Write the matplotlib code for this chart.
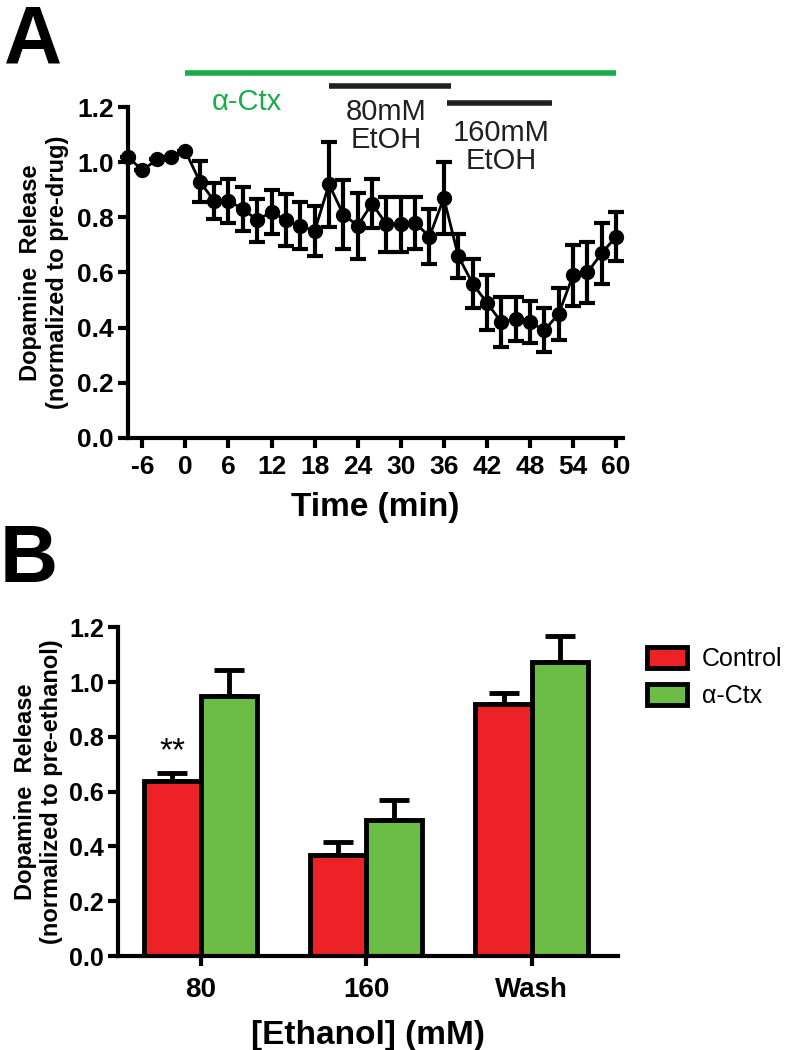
import numpy as np
import matplotlib
matplotlib.use("Agg")
import matplotlib.pyplot as plt
from matplotlib.patches import Patch

plt.rcParams['font.family'] = ['Liberation Sans', 'DejaVu Sans']
plt.rcParams['axes.unicode_minus'] = False

# Panel A: time course with alpha-Ctx, 80 and 160 mM EtOH
time_min = [-8, -6, -4, -2, 0, 2, 4, 6, 8, 10, 12, 14, 16, 18, 20, 22, 24, 26, 28,
            30, 32, 34, 36, 38, 40, 42, 44, 46, 48, 50, 52, 54, 56, 58, 60]
da_mean = [1.02, 0.97, 1.01, 1.02, 1.04, 0.93, 0.86, 0.86, 0.83, 0.79, 0.82, 0.79,
           0.77, 0.75, 0.92, 0.81, 0.77, 0.85, 0.775, 0.775, 0.78, 0.73, 0.87, 0.66,
           0.56, 0.49, 0.42, 0.43, 0.42, 0.39, 0.45, 0.59, 0.60, 0.67, 0.73]
da_sem = [0.0, 0.0, 0.0, 0.0, 0.0, 0.075, 0.065, 0.08, 0.08, 0.078, 0.08, 0.095,
          0.085, 0.09, 0.155, 0.125, 0.12, 0.09, 0.1, 0.1, 0.095, 0.1, 0.13, 0.08,
          0.09, 0.1, 0.09, 0.08, 0.075, 0.08, 0.095, 0.11, 0.11, 0.11, 0.09]
x_ticks_a = [-6, 0, 6, 12, 18, 24, 30, 36, 42, 48, 54, 60]
y_ticks = [0.0, 0.2, 0.4, 0.6, 0.8, 1.0, 1.2]
y_tick_labels = ['0.0', '0.2', '0.4', '0.6', '0.8', '1.0', '1.2']

# drug application periods (min)
ctx_period = [0, 60]
etoh80_period = [20, 37]
etoh160_period = [36.5, 51]

# Panel B: bar chart
groups = ['80', '160', 'Wash']
control_mean = [0.64, 0.37, 0.92]
control_err = [0.028, 0.048, 0.04]
ctx_mean = [0.95, 0.495, 1.075]
ctx_err = [0.095, 0.075, 0.093]

red = '#ec2227'
green = '#6cbd45'
line_green = '#1aac4a'
dark = '#231f20'

fig = plt.figure(figsize=(7.9, 10.5), dpi=100)

# ---------------- Panel A ----------------
axA = fig.add_axes([0.162, 0.583, 0.627, 0.315])
axA.errorbar(time_min, da_mean, yerr=da_sem, fmt='-o', color='black', lw=2,
             ms=10, elinewidth=3, capsize=6, capthick=3, clip_on=False, zorder=3)
axA.set_xlim(-8, 61)
axA.set_ylim(0, 1.2)
axA.set_xticks(x_ticks_a)
axA.set_yticks(y_ticks)
axA.set_yticklabels(y_tick_labels)
axA.spines['top'].set_visible(False)
axA.spines['right'].set_visible(False)
for s in ['left', 'bottom']:
    axA.spines[s].set_linewidth(3)
axA.tick_params(width=3, length=7, labelsize=19, direction='out', pad=3)
axA.tick_params(axis='x', pad=5)
for lab in axA.get_xticklabels() + axA.get_yticklabels():
    lab.set_fontweight('bold')
axA.set_xlabel('Time (min)', fontsize=24, fontweight='bold', labelpad=10)
axA.set_ylabel('Dopamine  Release\n(normalized to pre-drug)', fontsize=17,
               fontweight='bold', labelpad=6)

# treatment bars above the plot
axA.plot(ctx_period, [1.325, 1.325], color=line_green, lw=4, clip_on=False,
         solid_capstyle='butt')
axA.plot(etoh80_period, [1.277, 1.277], color=dark, lw=4, clip_on=False,
         solid_capstyle='butt')
axA.plot(etoh160_period, [1.214, 1.214], color=dark, lw=4, clip_on=False,
         solid_capstyle='butt')
axA.text(8.5, 1.22, '\u03b1-Ctx', color=line_green, fontsize=21, ha='center',
         va='center')
axA.text(28, 1.13, '80mM\nEtOH', color=dark, fontsize=21, ha='center',
         va='center', linespacing=1.0)
axA.text(44, 1.055, '160mM\nEtOH', color=dark, fontsize=21, ha='center',
         va='center', linespacing=1.0)

fig.text(0.005, 0.997, 'A', fontsize=58, fontweight='bold', va='top', ha='left')

# ---------------- Panel B ----------------
axB = fig.add_axes([0.149, 0.0895, 0.633, 0.313])
x = np.arange(len(groups))
w = 0.34
axB.errorbar(x - w / 2, control_mean, yerr=[np.zeros(3), control_err], fmt='none',
             ecolor='black', elinewidth=3.5, capsize=11, capthick=3.5, zorder=1)
axB.errorbar(x + w / 2, ctx_mean, yerr=[np.zeros(3), ctx_err], fmt='none',
             ecolor='black', elinewidth=3.5, capsize=11, capthick=3.5, zorder=1)
axB.bar(x - w / 2, control_mean, w, color=red, edgecolor='black', lw=3.5,
        zorder=2, label='Control')
axB.bar(x + w / 2, ctx_mean, w, color=green, edgecolor='black', lw=3.5,
        zorder=2, label='\u03b1-Ctx')
axB.text(x[0] - w / 2, 0.69, '**', fontsize=24, ha='center', va='bottom')
axB.set_xlim(-0.5, 2.52)
axB.set_ylim(0, 1.2)
axB.set_xticks(x)
axB.set_xticklabels(groups)
axB.set_yticks(y_ticks)
axB.set_yticklabels(y_tick_labels)
axB.spines['top'].set_visible(False)
axB.spines['right'].set_visible(False)
for s in ['left', 'bottom']:
    axB.spines[s].set_linewidth(3)
axB.tick_params(width=3, length=7, labelsize=18, direction='out', pad=3)
axB.tick_params(axis='x', pad=8, labelsize=20)
for lab in axB.get_xticklabels() + axB.get_yticklabels():
    lab.set_fontweight('bold')
axB.set_xlabel('[Ethanol] (mM)', fontsize=24, fontweight='bold', labelpad=12)
axB.set_ylabel('Dopamine  Release\n(normalized to pre-ethanol)', fontsize=17,
               fontweight='bold', labelpad=4)

handles = [Patch(facecolor=red, edgecolor='black', lw=3.5, label='Control'),
           Patch(facecolor=green, edgecolor='black', lw=3.5, label='\u03b1-Ctx')]
fig.legend(handles=handles, loc='upper left', bbox_to_anchor=(0.79, 0.405),
           frameon=False, handlelength=1.6, handleheight=0.9,
           handletextpad=0.6, labelspacing=0.5, prop={'size': 18})

fig.text(0.0, 0.502, 'B', fontsize=58, fontweight='bold', va='top', ha='left')

fig.savefig('out.png', dpi=100)
